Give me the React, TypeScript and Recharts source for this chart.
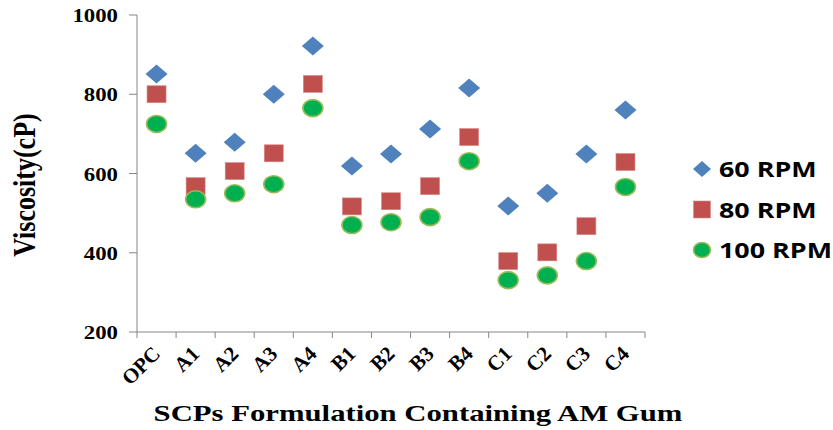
import React from "react";
import { ScatterChart, Scatter, XAxis, YAxis, Legend } from "recharts";

const categories = ["OPC", "A1", "A2", "A3", "A4", "B1", "B2", "B3", "B4", "C1", "C2", "C3", "C4"];
const rpm60 = [851, 651, 679, 800, 922, 619, 649, 712, 816, 518, 550, 649, 760];
const rpm80 = [800, 568, 606, 651, 826, 517, 530, 568, 692, 379, 401, 467, 629];
const rpm100 = [725, 535, 550, 573, 765, 470, 477, 490, 631, 331, 343, 379, 566];
const yTicks = [200, 400, 600, 800, 1000];
const seriesNames = ["60 RPM", "80 RPM", "100 RPM"];

const W = 833;
const H = 430;
const PLOT_LEFT = 137;
const PLOT_RIGHT = 645;
const PLOT_TOP = 15;
const PLOT_BOTTOM = 332;
const AXIS = "#868686";
const SERIF = "'Liberation Serif', 'Times New Roman', serif";
const BLUE = "#4F81BD";
const RED = "#C0504D";
const GREEN = "#00B050";
const GREEN_EDGE = "#9BBB59";

const toPoints = (vals: number[]) => vals.map((v, i) => ({ x: i + 0.5, y: v, name: categories[i] }));

// labels sit in the middle of each band, tick marks on the band edges
const halfBand = (PLOT_RIGHT - PLOT_LEFT) / categories.length / 2;

const Diamond = (props: any) => {
  const { cx, cy } = props;
  const w = props.w ?? 11;
  const h = props.h ?? 9.5;
  return <polygon points={`${cx},${cy - h} ${cx + w},${cy} ${cx},${cy + h} ${cx - w},${cy}`} fill={BLUE} />;
};

const Square = (props: any) => {
  const { cx, cy } = props;
  const w = props.w ?? 9.5;
  const h = props.h ?? 8.5;
  return <rect x={cx - w} y={cy - h} width={w * 2} height={h * 2} fill={RED} stroke="#d98a88" strokeWidth={0.6} />;
};

const Dot = (props: any) => {
  const { cx, cy } = props;
  return <ellipse cx={cx} cy={cy} rx={props.w ?? 10} ry={props.h ?? 8.5} fill={GREEN} stroke={GREEN_EDGE} strokeWidth={1.6} />;
};

const XTick = (props: any) => {
  const { x, y, payload } = props;
  const label = categories[payload.value];
  if (!label) return null;
  const ax = x + halfBand + 5;
  const ay = y + 15;
  return (
    <text
      transform={`translate(${ax}, ${ay}) rotate(-45)`}
      textAnchor="end"
      fontFamily={SERIF}
      fontWeight="bold"
      fontSize={21}
      fill="#000"
    >
      {label}
    </text>
  );
};

const YTick = (props: any) => {
  const { x, y, payload } = props;
  return (
    <text
      transform={`translate(${x}, ${y + 7}) scale(1.2, 1)`}
      textAnchor="end"
      fontFamily={SERIF}
      fontWeight="bold"
      fontSize={19}
      fill="#000"
    >
      {payload.value}
    </text>
  );
};

const LegendBox = () => {
  const shapes = [Diamond, Square, Dot];
  const sizes = [
    [9, 8],
    [8.5, 8.5],
    [8.5, 7.5],
  ];
  return (
    <svg width={143} height={130}>
      {seriesNames.map((n, i) => {
        const Shape = shapes[i];
        const cy = 19 + i * 40.5;
        return (
          <g key={n}>
            <Shape cx={12} cy={cy} w={sizes[i][0]} h={sizes[i][1]} />
            <text
              transform={`translate(29, ${cy + 8}) scale(1.28, 1)`}
              fontFamily="'Open Sans', sans-serif"
              fontWeight="bold"
              fontSize={21}
              fill="#000"
            >
              {n}
            </text>
          </g>
        );
      })}
    </svg>
  );
};

export default function App() {
  return (
    <div style={{ position: "absolute", left: 0, top: 0, background: "#fff" }}>
      <ScatterChart
        width={W}
        height={H}
        margin={{ top: PLOT_TOP, right: W - PLOT_RIGHT, bottom: H - PLOT_BOTTOM - 60, left: 0 }}
      >
        <XAxis
          type="number"
          dataKey="x"
          domain={[0, categories.length]}
          ticks={categories.map((_, i) => i).concat([categories.length])}
          interval={0}
          height={60}
          stroke={AXIS}
          tickSize={6}
          tick={(p: any) => <XTick {...p} />}
          label={{
            content: () => (
              <text
                transform={`translate(418, 421) scale(1.28, 1)`}
                textAnchor="middle"
                fontFamily={SERIF}
                fontWeight="bold"
                fontSize={24}
                fill="#000"
              >
                SCPs Formulation Containing AM Gum
              </text>
            ),
          }}
        />
        <YAxis
          type="number"
          dataKey="y"
          domain={[200, 1000]}
          ticks={yTicks}
          interval={0}
          width={PLOT_LEFT}
          stroke={AXIS}
          tickSize={8}
          tickMargin={11}
          tick={(p: any) => <YTick {...p} />}
          label={{
            content: () => (
              <text
                transform={`translate(35, 185) scale(1.2, 1) rotate(-90)`}
                textAnchor="middle"
                fontFamily={SERIF}
                fontWeight="bold"
                fontSize={26}
                fill="#000"
              >
                Viscosity(cP)
              </text>
            ),
          }}
        />
        <Legend
          layout="vertical"
          align="center"
          verticalAlign="middle"
          wrapperStyle={{ left: 690, top: 150, width: 143 }}
          content={() => <LegendBox />}
        />
        <Scatter name={seriesNames[0]} data={toPoints(rpm60)} shape={<Diamond />} isAnimationActive={false} />
        <Scatter name={seriesNames[1]} data={toPoints(rpm80)} shape={<Square />} isAnimationActive={false} />
        <Scatter name={seriesNames[2]} data={toPoints(rpm100)} shape={<Dot />} isAnimationActive={false} />
      </ScatterChart>
    </div>
  );
}
